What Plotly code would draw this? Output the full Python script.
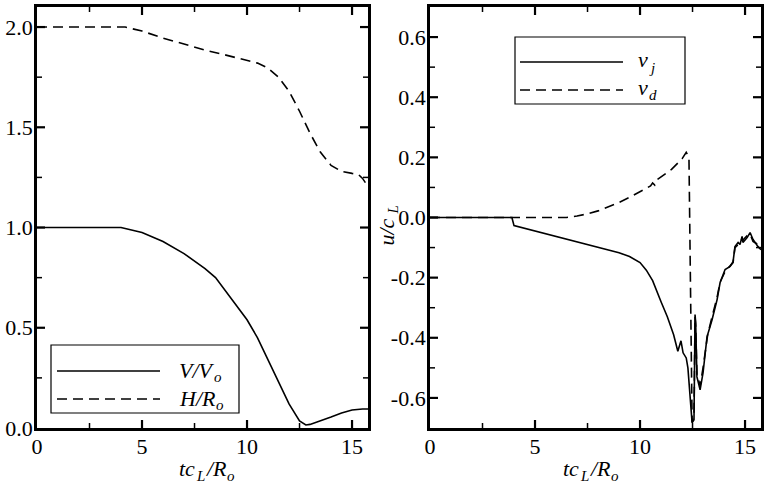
import plotly.graph_objects as go

# ---------------- data ----------------
t_V = [0, 4.0, 5, 6, 7, 8, 8.5, 9, 9.5, 10, 10.5, 11, 11.5, 12, 12.5, 12.8, 13, 13.5, 14, 14.5, 15, 15.5, 15.76]
V_ratio = [1.0, 1.0, 0.975, 0.93, 0.87, 0.795, 0.75, 0.68, 0.615, 0.54, 0.45, 0.34, 0.23, 0.12, 0.035, 0.015, 0.018, 0.035, 0.055, 0.075, 0.09, 0.095, 0.095]

t_H = [0, 4.2, 5, 6, 7, 8, 9, 10, 10.5, 11, 11.5, 12, 12.5, 13, 13.5, 14, 14.5, 15, 15.3, 15.5, 15.76]
H_ratio = [2.0, 2.0, 1.98, 1.945, 1.915, 1.885, 1.86, 1.835, 1.82, 1.795, 1.75, 1.68, 1.58, 1.47, 1.375, 1.31, 1.28, 1.27, 1.265, 1.245, 1.205]

t_vj = [0, 3.9, 4.0, 5, 6, 7, 8, 9, 9.5, 10, 10.3, 10.6, 11.0, 11.3, 11.6, 11.8, 11.95, 12.05, 12.2, 12.28,
        12.48, 12.57, 12.62, 12.65, 12.71, 12.86, 13.0, 13.19, 13.43, 13.67, 13.81, 14.05, 14.29, 14.43,
        14.52, 14.67, 14.76, 14.86, 14.9, 15.1, 15.24, 15.38, 15.62, 15.76]
v_j = [0, 0, -0.027, -0.045, -0.063, -0.081, -0.099, -0.117, -0.13, -0.15, -0.175, -0.21, -0.28, -0.33, -0.39, -0.445,
       -0.41, -0.45, -0.467, -0.5, -0.683, -0.673, -0.323, -0.35, -0.53, -0.573, -0.517, -0.397, -0.34,
       -0.273, -0.217, -0.173, -0.163, -0.147, -0.097, -0.083, -0.09, -0.063, -0.083, -0.067, -0.05,
       -0.073, -0.097, -0.107]

t_vd = [0, 6.5, 7, 7.5, 8, 8.5, 9, 9.5, 10, 10.5, 10.6, 10.7, 10.8, 11, 11.5, 12.0, 12.2, 12.33, 12.48,
        12.57, 12.62, 12.65, 12.71, 12.86, 13.0, 13.22, 13.43, 13.67, 13.81, 14.05, 14.3, 14.43, 14.52,
        14.67, 14.76, 14.86, 14.9, 15.1, 15.24, 15.38, 15.62, 15.76]
v_d = [0, 0, 0.005, 0.012, 0.022, 0.035, 0.05, 0.067, 0.085, 0.105, 0.115, 0.108, 0.125, 0.135, 0.16, 0.195,
       0.217, 0.2, -0.68, -0.66, -0.33, -0.36, -0.52, -0.56, -0.5, -0.39, -0.33, -0.265, -0.215, -0.18,
       -0.16, -0.15, -0.1, -0.09, -0.085, -0.07, -0.075, -0.06, -0.055, -0.08, -0.09, -0.1]

x_range = [0, 15.76]
x_ticks = [0, 5, 10, 15]
x_minor = [2.5, 7.5, 12.5]
left_y_range = [0, 2.1]
left_y_ticks = [0.0, 0.5, 1.0, 1.5, 2.0]
left_y_minor = [0.25, 0.75, 1.25, 1.75]
right_y_range = [-0.7, 0.7]
right_y_ticks = [-0.6, -0.4, -0.2, 0.0, 0.2, 0.4, 0.6]
right_y_labels = ["-0.6", "-0.4", "-0.2", "0.0", "0.2", "0.4", "0.6"]
right_y_minor = [-0.5, -0.3, -0.1, 0.1, 0.3, 0.5]

# ---------------- figure ----------------
FONT = "Liberation Serif"
W, H = 768, 493
DASH = "10px,6px"
ML, MR, MT, MB = 37, 7, 7, 65
PW, PH = W - ML - MR, H - MT - MB
LEFT_PX = (37, 368)
RIGHT_PX = (430, 761)
TOP_PX, BOT_PX = 7, 428


def fx(px):   # pixel x -> paper fraction
    return (px - ML) / PW


def fy(py):   # pixel y (from top) -> paper fraction
    return (H - MB - py) / PH


fig = go.Figure()
fig.add_trace(go.Scatter(x=t_V, y=V_ratio, mode="lines", line=dict(color="black", width=1.6),
                         xaxis="x", yaxis="y", showlegend=False))
fig.add_trace(go.Scatter(x=t_H, y=H_ratio, mode="lines", line=dict(color="black", width=1.6, dash=DASH),
                         xaxis="x", yaxis="y", showlegend=False))
fig.add_trace(go.Scatter(x=t_vj, y=v_j, mode="lines", line=dict(color="black", width=1.6),
                         xaxis="x2", yaxis="y2", showlegend=False))
fig.add_trace(go.Scatter(x=t_vd, y=v_d, mode="lines", line=dict(color="black", width=1.6, dash=DASH),
                         xaxis="x2", yaxis="y2", showlegend=False))

common = dict(showgrid=False, zeroline=False, showline=True, linecolor="black", linewidth=2.8,
              mirror=True, ticks="", automargin=False, tickfont=dict(family=FONT, size=22, color="black"))

fig.update_layout(
    width=W, height=H,
    margin=dict(l=ML, r=MR, t=MT, b=MB),
    plot_bgcolor="white",
    font=dict(family=FONT, size=22, color="black"),
    xaxis=dict(common, domain=[fx(LEFT_PX[0]), fx(LEFT_PX[1])], anchor="y", range=x_range, tickvals=x_ticks,
               ticklabelstandoff=-3),
    yaxis=dict(common, domain=[0, 1], anchor="x", range=left_y_range,
               tickvals=left_y_ticks, ticktext=[f"{v:.1f}" for v in left_y_ticks], ticklabelstandoff=-3),
    xaxis2=dict(common, domain=[fx(RIGHT_PX[0]), fx(RIGHT_PX[1])], anchor="y2", range=x_range, tickvals=x_ticks,
                ticklabelstandoff=-3),
    yaxis2=dict(common, domain=[0, 1], anchor="x2", range=right_y_range,
                tickvals=right_y_ticks, ticktext=right_y_labels, ticklabelstandoff=-3),
)

shapes = []
annos = []


# ---- inside ticks on all four sides, placed from the tick arrays and axis ranges ----
def add_ticks(panel_px, xr, yr, xt, xm, yt, ym):
    px0, px1 = panel_px

    def xpix(v):
        return px0 + (v - xr[0]) / (xr[1] - xr[0]) * (px1 - px0)

    def ypix(v):
        return BOT_PX - (v - yr[0]) / (yr[1] - yr[0]) * (BOT_PX - TOP_PX)

    for vals, L, wdt in ((xt, 8, 2.2), (xm, 5, 1.5)):
        for v in vals:
            if v <= xr[0] or v >= xr[1]:
                continue
            xp = xpix(v)
            for base, sgn in ((BOT_PX, -1), (TOP_PX, 1)):
                shapes.append(dict(type="line", xref="paper", yref="paper", x0=fx(xp), x1=fx(xp),
                                   y0=fy(base), y1=fy(base + sgn * L),
                                   line=dict(color="black", width=wdt), layer="above"))
    for vals, L, wdt in ((yt, 8, 2.2), (ym, 5, 1.5)):
        for v in vals:
            if v <= yr[0] or v >= yr[1]:
                continue
            yp = ypix(v)
            for base, sgn in ((px0, 1), (px1, -1)):
                shapes.append(dict(type="line", xref="paper", yref="paper", y0=fy(yp), y1=fy(yp),
                                   x0=fx(base), x1=fx(base + sgn * L),
                                   line=dict(color="black", width=wdt), layer="above"))


add_ticks(LEFT_PX, x_range, left_y_range, x_ticks, x_minor, left_y_ticks, left_y_minor)
add_ticks(RIGHT_PX, x_range, right_y_range, x_ticks, x_minor, right_y_ticks, right_y_minor)


def txt(px, py, s, size, xanchor="left", yanchor="middle", angle=0):
    annos.append(dict(xref="paper", yref="paper", x=fx(px), y=fy(py), text=s, showarrow=False,
                      xanchor=xanchor, yanchor=yanchor, textangle=angle,
                      font=dict(family=FONT, size=size, color="black", style="italic")))


def legend(box, entries):
    bx0, bx1, by0, by1 = box
    shapes.append(dict(type="rect", xref="paper", yref="paper", x0=fx(bx0), x1=fx(bx1), y0=fy(by1), y1=fy(by0),
                       line=dict(color="black", width=1.2), fillcolor="white", layer="above"))
    for (lx0, lx1, ly, dash) in entries:
        shapes.append(dict(type="line", xref="paper", yref="paper", x0=fx(lx0), x1=fx(lx1), y0=fy(ly), y1=fy(ly),
                           line=dict(color="black", width=1.6, dash=dash), layer="above"))


legend((51, 239, 345, 413), [(57, 160, 371, "solid"), (57, 160, 399, DASH)])
legend((515, 685, 37, 104), [(520, 623, 62, "solid"), (520, 623, 90, DASH)])

MAIN, SUB = 22, 15
# left legend labels: V/V_o, H/R_o
txt(177, 370, "V/V", MAIN)
txt(212, 377, "o", SUB)
txt(177, 398, "H/R", MAIN)
txt(214, 405, "o", SUB)
# right legend labels: v_j, v_d
txt(636, 60, "v", MAIN)
txt(647, 68, "j", SUB)
txt(636, 88, "v", MAIN)
txt(647, 95, "d", SUB)

# x-axis titles: tc_L / R_o
for x0 in (177, 561):
    txt(x0, 468, "tc", MAIN)
    txt(x0 + 17, 476, "L", SUB)
    txt(x0 + 26, 468, "/R", MAIN)
    txt(x0 + 48, 476, "o", SUB)

# y-axis title (right panel): u/c_L, rotated
txt(386, 248, "u/c", MAIN, xanchor="center", yanchor="bottom", angle=-90)
txt(392, 217, "L", SUB, xanchor="center", yanchor="bottom", angle=-90)

fig.update_layout(shapes=shapes, annotations=annos)
fig.write_html("out.html", config={"displayModeBar": False},
               post_script="document.body.style.margin='0px';")
